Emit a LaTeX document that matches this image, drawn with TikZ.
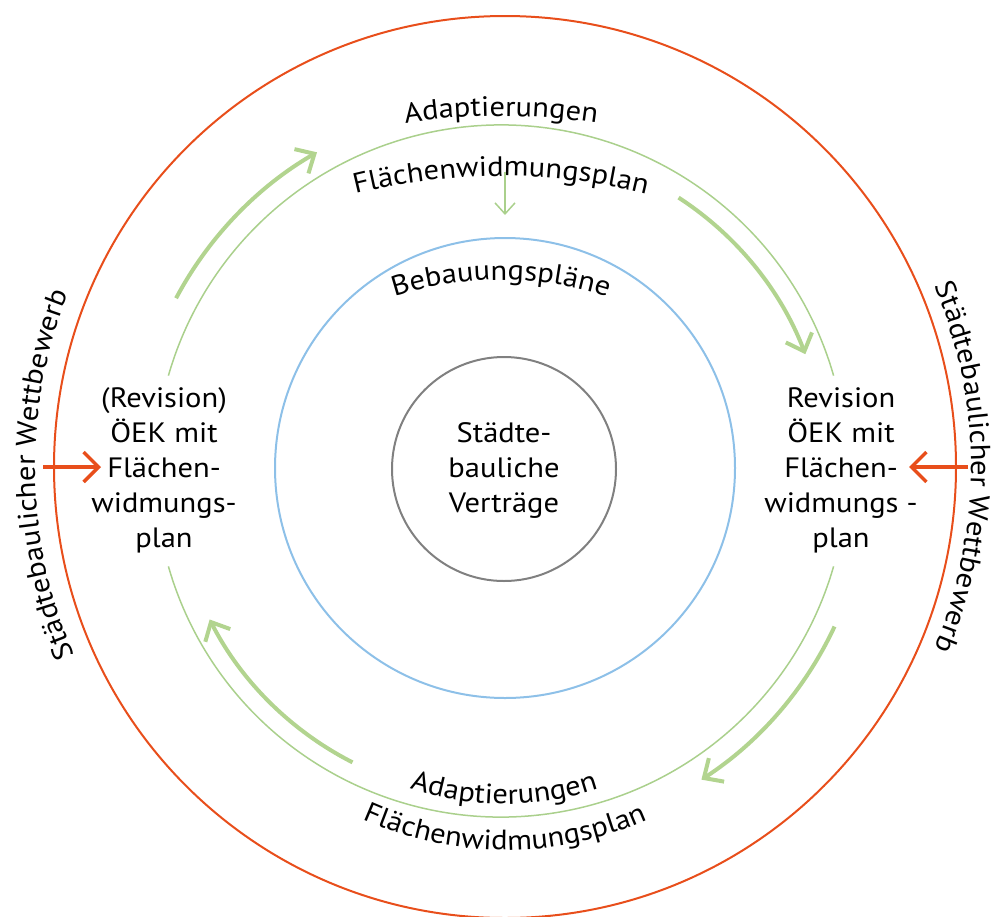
\documentclass[tikz,border=0pt]{standalone}
\usepackage{fontspec}
\setmainfont{PT Sans}[FakeStretch=1.09]
\usetikzlibrary{arrows.meta,decorations.text}
\definecolor{redC}{RGB}{232,78,27}
\definecolor{greenC}{RGB}{170,208,140}
\definecolor{greenA}{RGB}{178,212,143}
\definecolor{blueC}{RGB}{141,192,232}
\definecolor{grayC}{RGB}{128,128,128}
\newcommand{\dfs}{\fontsize{28}{35}\selectfont}
\tikzset{
  garrow/.style={draw=greenA, line width=4pt, -{Straight Barb[length=15pt,width=28pt]}},
  rarrow/.style={draw=redC, line width=3.5pt, -{Straight Barb[length=15pt,width=30pt]}},
  sarrow/.style={draw=greenC, line width=1.5pt, -{Straight Barb[length=11pt,width=20pt]}},
  lbl/.style={align=center, font=\dfs, inner sep=0pt},
  curved/.style={decorate, decoration={text along path, text align=center, text={|\dfs|#1}}}
}
\begin{document}
\begin{tikzpicture}[x=1pt,y=1pt]
\useasboundingbox (0,0) rectangle (995,-916);
\coordinate (cR) at (505,-467);
\coordinate (cG) at (501,-471);
\coordinate (cB) at (505,-468);
\coordinate (cK) at (504,-469);
% centres of the (flatter) text baselines
\coordinate (tA) at (501,-746);
\coordinate (tF) at (501,-776);
\coordinate (tB) at (501,-630);
\coordinate (bA) at (504,-508);
\coordinate (bF) at (505,-501);
% circles
\draw[redC, line width=2pt] (cR) circle[radius=451];
\draw[greenC, line width=1.5pt] (cG) ++(16:346) arc[start angle=16, end angle=164, radius=346];
\draw[greenC, line width=1.5pt] (cG) ++(196:346) arc[start angle=196, end angle=344, radius=346];
\draw[blueC, line width=2pt] (cB) circle[radius=230];
\draw[grayC, line width=2pt] (cK) circle[radius=112];
% curved texts
\path[curved=Adaptierungen] (tA) ++(115:630) arc[start angle=115, end angle=65, radius=630];
\path[curved=Flächenwidmungsplan] (tF) ++(120:600) arc[start angle=120, end angle=60, radius=600];
\path[curved=Bebauungspläne] (tB) ++(130:350) arc[start angle=130, end angle=50, radius=350];
\path[curved=Adaptierungen] (bA) ++(235:296) arc[start angle=235, end angle=305, radius=296];
\path[curved=Flächenwidmungsplan] (bF) ++(230:349) arc[start angle=230, end angle=310, radius=349];
\path[curved=Städtebaulicher Wettbewerb] (cR) ++(221:470) arc[start angle=221, end angle=141, radius=470];
\path[curved=Städtebaulicher Wettbewerb] (cR) ++(40:466) arc[start angle=40, end angle=-40, radius=466];
% labels
\node[lbl] (center) at (504,-470) {Städte-\\bauliche\\Verträge};
\node[lbl] (left) at (164,-470) {(Revision)\\ÖEK mit\\Flächen-\\widmungs-\\plan};
\node[lbl] (right) at (841,-470) {Revision\\ÖEK mit\\Flächen-\\widmungs -\\plan};
% green cycle arrows
\draw[garrow] (cG) ++(152:368) arc[start angle=152, end angle=120, radius=368];
\draw[garrow] (cG) ++(57:326) arc[start angle=57, end angle=21, radius=326];
\draw[garrow] (cG) ++(-25:368) arc[start angle=-25, end angle=-57, radius=368];
\draw[garrow] (cG) ++(243:327) arc[start angle=243, end angle=207, radius=327];
% small arrow
\coordinate (sa) at (505,-172);
\coordinate (sb) at (505,-215);
\draw[sarrow] (sa) -- (sb);
% red arrows
\coordinate (la) at (43,-467);
\coordinate (lb) at (101,-467);
\draw[rarrow] (la) -- (lb);
\coordinate (ra) at (968,-467);
\coordinate (rb) at (909,-467);
\draw[rarrow] (ra) -- (rb);
\end{tikzpicture}
\end{document}
